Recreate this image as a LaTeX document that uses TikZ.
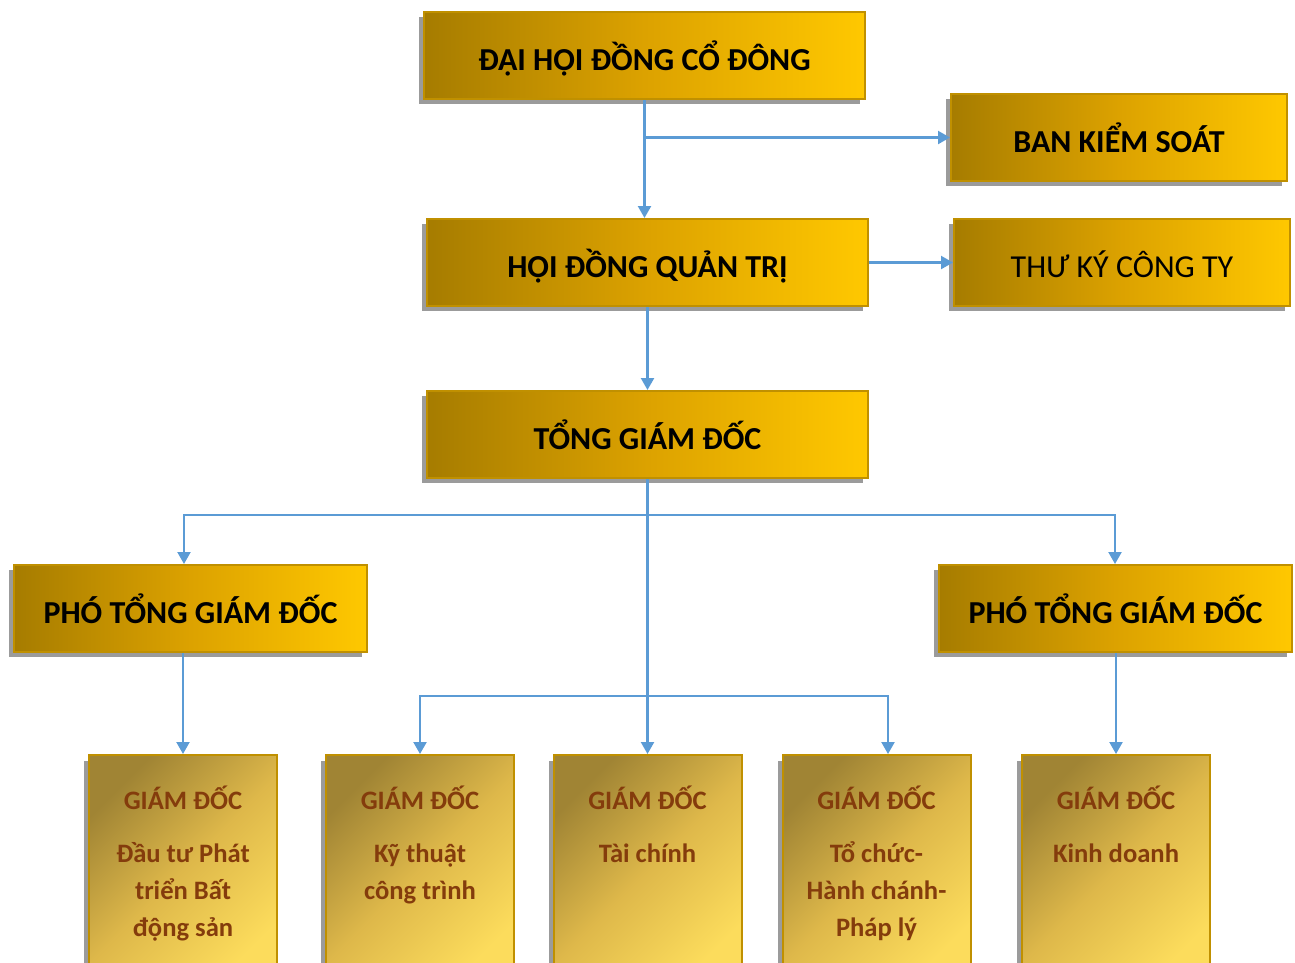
\documentclass[tikz,border=0pt]{standalone}
\usepackage{fontspec}
\setmainfont{Carlito}
\usetikzlibrary{arrows.meta,shadows,calc}
\definecolor{gdark}{RGB}{166,124,0}
\definecolor{gmid}{RGB}{220,162,0}
\definecolor{glight}{RGB}{255,200,0}
\definecolor{bdark}{RGB}{160,132,52}
\definecolor{bmid}{RGB}{222,184,74}
\definecolor{blight}{RGB}{252,220,92}
\definecolor{gborder}{RGB}{192,144,0}
\definecolor{conncol}{RGB}{91,155,213}
\definecolor{shadowgray}{RGB}{155,155,155}
\definecolor{brownt}{RGB}{132,60,12}
\begin{document}
\begin{tikzpicture}[x=1pt,y=-1pt,
  titlebox/.style={rectangle, draw=gborder, line width=2pt, inner sep=0pt,
    minimum height=87pt, left color=gdark, right color=glight, middle color=gmid,
    drop shadow={shadow xshift=-5pt, shadow yshift=-5pt, fill=shadowgray, opacity=1},
    text height=33pt, text depth=4pt, text=black,
    font=\fontsize{32}{38}\selectfont\bfseries},
  thinbox/.style={titlebox, font=\fontsize{32}{38}\selectfont},
  lowbox/.style={rectangle, draw=gborder, line width=2pt, inner sep=0pt,
    minimum width=188pt, minimum height=230pt,
    top color=bdark, bottom color=blight, middle color=bmid, shading angle=45,
    drop shadow={shadow xshift=-5pt, shadow yshift=-6pt, fill=shadowgray, opacity=1}},
  lowtext/.style={inner sep=0pt, align=center, text=brownt,
    font=\fontsize{26.6}{37}\selectfont\bfseries},
  conn/.style={draw=conncol, line width=2.2pt, -{Triangle[width=13pt,length=12pt]}},
  conn2/.style={draw=conncol, line width=2.2pt, {Triangle[width=13pt,length=12pt]}-{Triangle[width=13pt,length=12pt]}},
  line join=miter]
\useasboundingbox (0,0) rectangle (1295,962);
\clip (0,0) rectangle (1295,962);

\node[titlebox, minimum width=441pt] (dh) at (644.5,55.5) {ĐẠI HỘI ĐỒNG CỔ ĐÔNG};
\node[titlebox, minimum width=336pt] (bks) at (1119,137.5) {BAN KIỂM SOÁT};
\node[titlebox, minimum width=441pt] (hdqt) at (647.5,262.5) {HỘI ĐỒNG QUẢN TRỊ};
\node[thinbox, minimum width=336pt] (tk) at (1122,262.5) {THƯ KÝ CÔNG TY};
\node[titlebox, minimum width=441pt] (tgd) at (647.5,434.5) {TỔNG GIÁM ĐỐC};
\node[titlebox, minimum width=353pt] (pl) at (190.5,608.5) {PHÓ TỔNG GIÁM ĐỐC};
\node[titlebox, minimum width=353pt] (pr) at (1115.5,608.5) {PHÓ TỔNG GIÁM ĐỐC};

\node[lowbox] (b1) at (183,870) {};
\node[lowbox] (b2) at (420,870) {};
\node[lowbox] (b3) at (647.5,870) {};
\node[lowbox] (b4) at (876.5,870) {};
\node[lowbox] (b5) at (1116,870) {};

\node[lowtext, anchor=north] (t1) at (183,779) {\rule{0pt}{30pt}GIÁM ĐỐC\\[16pt]Đầu tư Phát\\triển Bất\\động sản};
\node[lowtext, anchor=north] (t2) at (420,779) {\rule{0pt}{30pt}GIÁM ĐỐC\\[16pt]Kỹ thuật\\công trình};
\node[lowtext, anchor=north] (t3) at (647.5,779) {\rule{0pt}{30pt}GIÁM ĐỐC\\[16pt]Tài chính};
\node[lowtext, anchor=north] (t4) at (876.5,779) {\rule{0pt}{30pt}GIÁM ĐỐC\\[16pt]Tổ chức-\\Hành chánh-\\Pháp lý};
\node[lowtext, anchor=north] (t5) at (1116,779) {\rule{0pt}{30pt}GIÁM ĐỐC\\[16pt]Kinh doanh};

\coordinate (jl) at (184,515);
\coordinate (jr) at (1115,515);
\coordinate (j2) at (420,696);
\coordinate (j4) at (888,696);

\draw[conn] (dh.south) -- (dh.south |- hdqt.north);
\draw[conn] (dh.south |- bks.west) -- (bks.west);
\draw[conn] (hdqt.east) -- (tk.west);
\draw[conn] (hdqt.south) -- (tgd.north);
\draw[conn] (tgd.south) -- (b3.north);
\draw[conn2] (jl |- pl.north) -- (jl) -- (jr) -- (jr |- pr.north);
\draw[conn2] (j2 |- b2.north) -- (j2) -- (j4) -- (j4 |- b4.north);
\draw[conn] (b1.north |- pl.south) -- (b1.north);
\draw[conn] (b5.north |- pr.south) -- (b5.north);
\end{tikzpicture}
\end{document}
